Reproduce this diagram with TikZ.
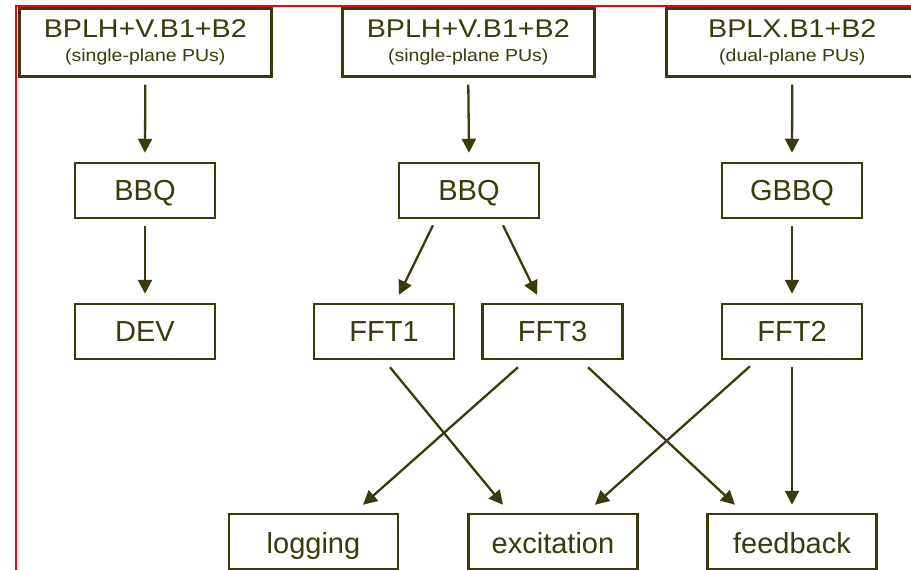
\documentclass[tikz,border=0pt]{standalone}
\usepackage{fontspec}
\setmainfont{Liberation Sans}
\newfontfamily\stretchfont[FakeStretch=1.12]{Liberation Sans}
\usetikzlibrary{arrows.meta,calc}
\definecolor{ink}{RGB}{58,58,14}
\definecolor{framered}{RGB}{255,0,0}
\begin{document}
\begin{tikzpicture}[x=1pt,y=-1pt,
  boxbase/.style={draw=ink, line width=2.5pt, fill=white, inner sep=0pt, text=ink},
  topbox/.style={boxbase, minimum width=252pt, minimum height=68pt},
  midbox/.style={boxbase, minimum width=140pt, minimum height=55pt,
    font=\fontsize{29}{29}\selectfont, text height=20.7pt, text depth=0pt},
  botbox/.style={midbox, minimum width=169pt, text height=23.5pt},
  titletext/.style={anchor=base, inner sep=0pt, text=ink, font=\stretchfont\fontsize{25.6}{25.6}\selectfont},
  subtext/.style={anchor=base, inner sep=0pt, text=ink, font=\stretchfont\fontsize{17.4}{17.4}\selectfont},
  arr/.style={draw=ink, line width=2.3pt, -{Triangle[length=14pt,width=14pt]}}
]
\useasboundingbox (0,0) rectangle (911,570);
% red frame
\draw[framered, line width=1.8pt] (16,575) -- (16,6) -- (915,6);

% top boxes
\node[topbox] (t1) at (145.3,42.3) {};
\node[topbox] (t2) at (468.3,42.3) {};
\node[topbox] (t3) at (792.3,42.3) {};
\node[titletext] (t1a) at ($(t1.north)+(0,30.4)$) {BPLH+V.B1+B2};
\node[subtext]   (t1b) at ($(t1.north)+(0,54)$) {(single-plane PUs)};
\node[titletext] (t2a) at ($(t2.north)+(0,30.4)$) {BPLH+V.B1+B2};
\node[subtext]   (t2b) at ($(t2.north)+(0,54)$) {(single-plane PUs)};
\node[titletext] (t3a) at ($(t3.north)+(0,30.4)$) {BPLX.B1+B2};
\node[subtext]   (t3b) at ($(t3.north)+(0,54)$) {(dual-plane PUs)};

% second row
\node[midbox] (bbq1) at (145,190.5) {BBQ};
\node[midbox] (bbq2) at (469,190.5) {BBQ};
\node[midbox] (gbbq) at (792,190.5) {GBBQ};

% third row
\node[midbox] (dev)  at (145,331.5) {DEV};
\node[midbox] (fft1) at (384,331.5) {FFT1};
\node[midbox] (fft3) at (552.5,331.5) {FFT3};
\node[midbox] (fft2) at (792,331.5) {FFT2};

% bottom row
\node[botbox] (log) at (313.5,541.5) {logging};
\node[botbox] (exc) at (553,541.5) {excitation};
\node[botbox] (fbk) at (792,541.5) {feedback};

% connectors
\draw[arr] ($(t1.south)+(0,7)$) -- ($(bbq1.north)+(0,-9)$);
\draw[arr] ($(t2.south)+(0,7)$) -- ($(bbq2.north)+(0,-9)$);
\draw[arr] ($(t3.south)+(0,7)$) -- ($(gbbq.north)+(0,-9)$);
\draw[arr] ($(bbq1.south)+(0,7)$) -- ($(dev.north)+(0,-9)$);
\draw[arr] ($(gbbq.south)+(0,7)$) -- ($(fft2.north)+(0,-9)$);
\draw[arr] ($(bbq2.south)+(-36,6)$) -- ($(fft1.north)+(15,-8)$);
\draw[arr] ($(bbq2.south)+(34,6)$) -- ($(fft3.north)+(-15.5,-8)$);
\draw[arr] ($(fft1.south)+(6,7)$) -- ($(exc.north)+(-50,-8)$);
\draw[arr] ($(fft3.south)+(-34.5,7)$) -- ($(log.north)+(49.5,-8)$);
\draw[arr] ($(fft3.south)+(35.5,7)$) -- ($(fbk.north)+(-57,-8)$);
\draw[arr] ($(fft2.south)+(-42,6)$) -- ($(exc.north)+(42,-8)$);
\draw[arr] ($(fft2.south)+(0,7)$) -- ($(fbk.north)+(0,-8)$);
\end{tikzpicture}
\end{document}
